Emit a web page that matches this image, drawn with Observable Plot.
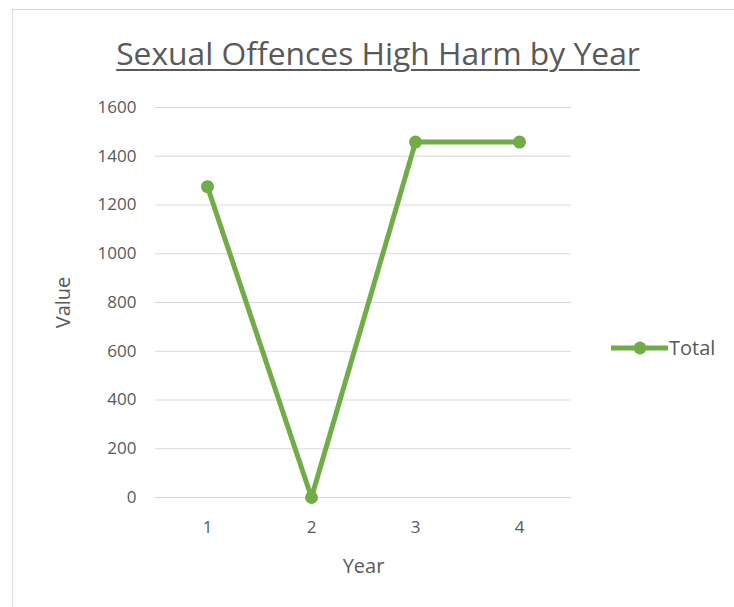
<!DOCTYPE html>
<html>
<head>
<meta charset="utf-8">
<script src="https://cdn.jsdelivr.net/npm/d3@7"></script>
<script src="https://cdn.jsdelivr.net/npm/@observablehq/plot@0.6"></script>
<style>
  body { margin: 0; background: #fff; font-family: "Open Sans", "Noto Sans", sans-serif; }
  #wrap { position: relative; width: 734px; height: 607px; overflow: hidden; background: #fff; }
  #frame { position: absolute; left: 12px; top: 9px; width: 740px; height: 620px; border: 1px solid #d9d9d9; box-sizing: border-box; }
  #title { position: absolute; left: 0; width: 756px; top: 31px; text-align: center; font-size: 31.8px; color: #595959; text-decoration: underline; text-decoration-thickness: 2px; text-underline-offset: 4px; white-space: nowrap; }
  #chart { position: absolute; left: 0; top: 0; }
  #legend { position: absolute; left: 609px; top: 334px; display: flex; align-items: center; font-size: 20px; color: #595959; }
</style>
</head>
<body>
<div id="wrap">
  <div id="frame"></div>
  <div id="chart"></div>
  <div id="title">Sexual Offences High Harm by Year</div>
  <div id="legend"><svg width="60" height="26"><line x1="2" y1="13" x2="59" y2="13" stroke="#70AD47" stroke-width="5"/><circle cx="31" cy="13" r="6.5" fill="#70AD47"/></svg><span>Total</span></div>
</div>
<script>
const years = ["1", "2", "3", "4"];
const totals = [1275, 0, 1458, 1458];
const yTicks = [0, 200, 400, 600, 800, 1000, 1200, 1400, 1600];
const seriesName = "Total";

const data = years.map((y, i) => ({year: y, value: totals[i], series: seriesName}));

const chart = Plot.plot({
  width: 734,
  height: 607,
  marginLeft: 155,
  marginRight: 163,
  marginTop: 107,
  marginBottom: 110,
  style: { fontFamily: "'Open Sans', 'Noto Sans', sans-serif", fontSize: "17px", color: "#595959", background: "transparent" },
  x: { type: "point", domain: years, padding: 0.5, label: null },
  y: { domain: [0, 1600], ticks: yTicks, label: null },
  marks: [
    Plot.gridY(yTicks, { stroke: "#d9d9d9", strokeOpacity: 1, strokeWidth: 1.2 }),
    Plot.axisY(yTicks, { tickSize: 0, tickPadding: 19, fontSize: 17, fill: "#595959", label: null, tickFormat: d => String(d) }),
    Plot.axisX(years, { tickSize: 0, tickPadding: 23, fontSize: 17, fill: "#595959", label: null }),
    Plot.text(["Value"], { frameAnchor: "left", textAnchor: "middle", rotate: -90, dx: -92, fontSize: 20, fill: "#595959" }),
    Plot.text(["Year"], { frameAnchor: "bottom", dy: 75, fontSize: 20, fill: "#595959" }),
    Plot.line(data, { x: "year", y: "value", stroke: "#70AD47", strokeWidth: 5, curve: "linear" }),
    Plot.dot(data, { x: "year", y: "value", r: 6.5, fill: "#70AD47", stroke: "none" })
  ]
});
document.getElementById("chart").appendChild(chart);
</script>
</body>
</html>
